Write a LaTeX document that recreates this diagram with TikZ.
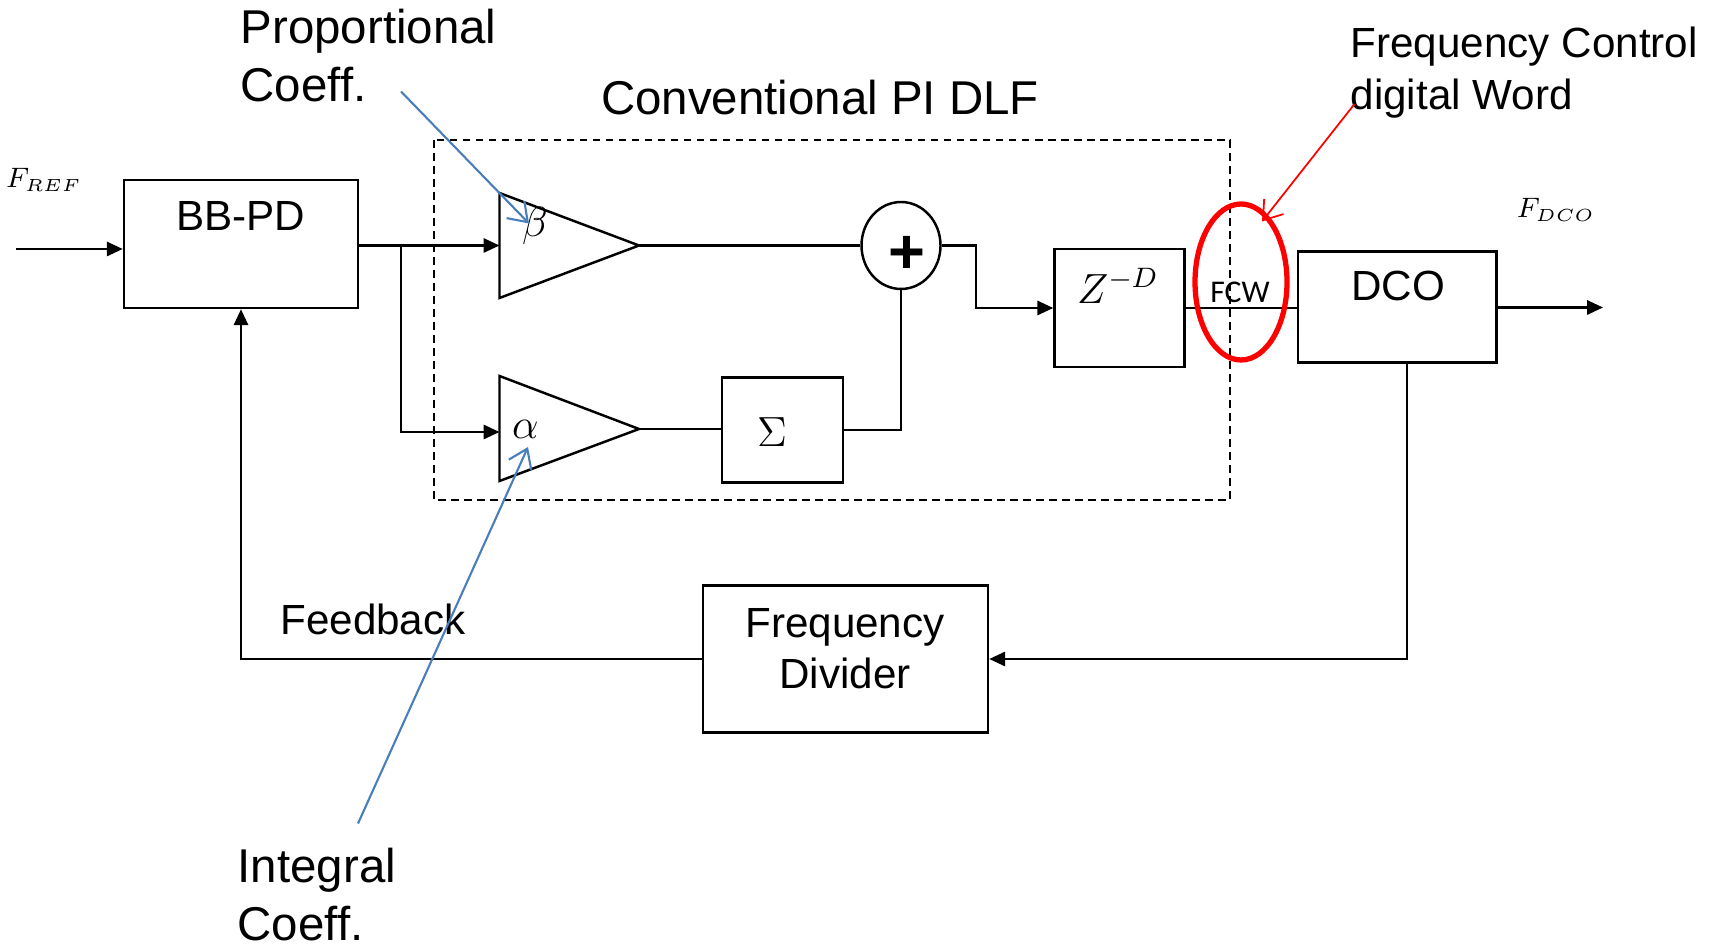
\documentclass[tikz,border=0pt]{standalone}
\usepackage{fontspec}
\setmainfont{Liberation Sans}
\newfontfamily\fcwfont{Carlito}
\usetikzlibrary{positioning,shapes.geometric,arrows.meta}
\definecolor{ink}{HTML}{000000}
\definecolor{pointer}{HTML}{4A7EBB}
\definecolor{alarm}{HTML}{FF0000}

\begin{document}
\begin{tikzpicture}[x=1cm,y=-1cm,
    blk/.style={draw=ink,line width=0.7pt,inner sep=0pt},
    wire/.style={draw=ink,line width=0.7pt},
    feed/.style={wire,-{Triangle[length=4.5pt,width=4pt]}},
    hint/.style={line width=0.6pt,-{Straight Barb[length=5pt,width=7pt]}},
    big/.style={font=\fontsize{13.5}{16.5}\selectfont,align=left,inner sep=0pt},
    txt/.style={font=\fontsize{12}{14.6}\selectfont,align=center,inner sep=0pt},
    sym/.style={font=\fontsize{11}{11}\selectfont,inner sep=0pt}]
  \useasboundingbox (0,0) rectangle (17.10,9.48);

  \draw[ink,line width=0.5pt,dash pattern=on 2.2pt off 1.5pt] (4.34,1.40) rectangle (12.30,5.00);
  \node[big] (dlf) at (8.20,0.98) {Conventional PI DLF};

  \node[blk,minimum width=2.34cm,minimum height=1.28cm] (bbpd) at (2.41,2.44) {};
  \node[txt] (bbpdtxt) at (2.41,2.16) {BB-PD};
  \node[sym,font=\fontsize{7.6}{8}\selectfont] (fref) at (0.44,1.80) {$F_{REF}$};

  \draw[blk] (4.995,1.93) -- (6.39,2.455) coordinate (btip) -- (4.995,2.98) -- cycle;
  \coordinate (bin) at (4.995,2.455);
  \node[sym,font=\fontsize{12}{12}\selectfont] (betatxt) at (5.35,2.26) {$\beta$};
  \draw[blk] (4.995,3.76) -- (6.39,4.29) coordinate (atip) -- (4.995,4.81) -- cycle;
  \coordinate (ain) at (4.995,4.32);
  \node[sym,font=\fontsize{12}{12}\selectfont] (alphatxt) at (5.255,4.29) {$\alpha$};

  \node[blk,minimum width=1.21cm,minimum height=1.05cm] (integ) at (7.825,4.30) {};
  \node[sym,font=\fontsize{12}{12}\selectfont] (sigmatxt) at (7.72,4.32) {$\Sigma$};
  \node[blk,ellipse,minimum width=0.79cm,minimum height=0.87cm] (sum) at (9.01,2.455) {};
  \node[font=\fontsize{18}{18}\selectfont\bfseries,inner sep=0pt] (plus) at (9.07,2.55) {+};

  \node[blk,minimum width=1.30cm,minimum height=1.185cm] (zd) at (11.195,3.08) {};
  \node[sym,font=\fontsize{12}{12}\selectfont] (zdtxt) at (11.18,2.86) {$Z^{-D}$};
  \node[blk,minimum width=1.985cm,minimum height=1.11cm] (dco) at (13.97,3.07) {};
  \node[txt] (dcotxt) at (13.98,2.86) {DCO};
  \node[sym,font=\fontsize{7.6}{8}\selectfont] (fdco) at (15.56,2.10) {$F_{DCO}$};

  \node[blk,minimum width=2.85cm,minimum height=1.47cm] (div) at (8.455,6.59) {};
  \node[txt] (divtxt) at (8.45,6.49) {Frequency\\Divider};
  \node[txt] (fb) at (3.73,6.19) {Feedback};

  \coordinate (fin) at (0.16,2.49);
  \coordinate (split) at (4.01,2.455);
  \coordinate (jog) at (9.76,2.455);
  \coordinate (fout) at (16.03,3.075);
  \coordinate (dtap) at ([xshift=0.1cm]dco.south);

  \draw[feed] (fin) -- (fin -| bbpd.west);
  \draw[wire] (bbpd.east |- split) -- (split);
  \draw[feed] (split) -- (bin);
  \draw[feed] (split) |- (ain);
  \draw[wire] (btip) -- (sum.west);
  \draw[wire] (atip) -- (atip -| integ.west);
  \draw[wire] (integ.east) -| (sum.south);
  \draw[feed] (sum.east) -- (jog) |- (zd.west);
  \draw[wire] (zd.east) -- (zd.east -| dco.west);
  \draw[feed] (dco.east |- fout) -- (fout);
  \draw[feed] (dtap) |- (div.east);
  \draw[feed] (div.west) -| (bbpd.south);

  \node[font=\fcwfont\fontsize{9}{9}\selectfont,inner sep=0pt] (fcw) at (12.40,2.92) {FCW};
  \node[draw=alarm,line width=1.5pt,ellipse,minimum width=0.92cm,minimum height=1.56cm] (ring) at (12.41,2.82) {};
  \node[txt,align=left,anchor=west] (fcwlbl) at (13.50,0.725) {Frequency Control\\digital Word};
  \coordinate (fcwtail) at (13.545,1.04);
  \coordinate (fcwhead) at (12.62,2.215);
  \draw[hint,alarm,line width=0.5pt] (fcwtail) -- (fcwhead);

  \node[big,anchor=west] (prop) at (2.40,0.56) {Proportional\\Coeff.};
  \node[big,anchor=west] (integl) at (2.37,8.95) {Integral\\Coeff.};
  \coordinate (ptail) at (4.01,0.915);
  \coordinate (phead) at (5.29,2.235);
  \coordinate (itail) at (3.58,8.235);
  \coordinate (ihead) at (5.28,4.47);
  \draw[hint,pointer] (ptail) -- (phead);
  \draw[hint,pointer] (itail) -- (ihead);
\end{tikzpicture}
\end{document}
